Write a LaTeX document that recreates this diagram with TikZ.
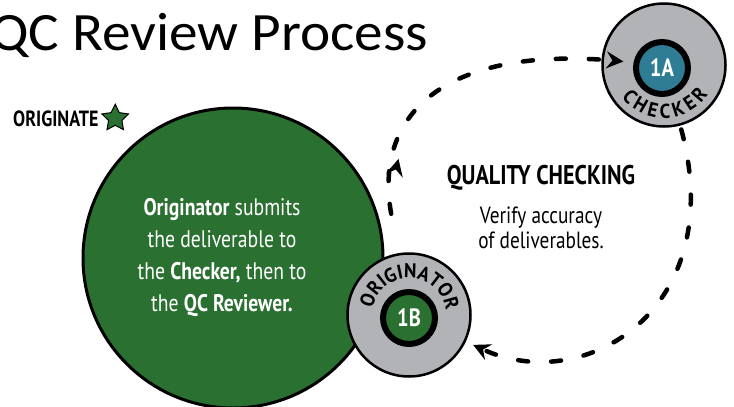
\documentclass[tikz,border=0pt]{standalone}
\usepackage{fontspec}
\setmainfont{PT Sans}
\newfontfamily\titlefont[FakeStretch=1.06]{Carlito}
\newfontfamily\condfont[FakeStretch=0.82]{PT Sans}
\newfontfamily\labelfont[FakeStretch=0.95]{PT Sans}
\newcommand{\ringfont}{\labelfont\bfseries\fontsize{20}{20}\selectfont}
\usepackage{tikz}
\usetikzlibrary{shapes.geometric, arrows.meta, positioning, calc, decorations.text, decorations.markings}
\definecolor{leafgreen}{HTML}{2A7030}
\definecolor{ringgray}{HTML}{B1B3B6}
\definecolor{tealblue}{HTML}{2E7D95}
\tikzset{
  bigstep/.style={
    circle, draw=black, line width=3pt,
    fill=leafgreen, minimum size=300pt, inner sep=0pt,
  },
  role/.style={
    circle, draw=black, line width=2.5pt,
    fill=ringgray, minimum size=123pt, inner sep=0pt,
  },
  badge/.style={
    circle, draw=black, line width=6pt,
    minimum size=52pt, inner sep=0pt, text=white,
    font=\condfont\bfseries\fontsize{25}{25}\selectfont,
  },
  flow/.style={
    line width=4.5pt, line cap=round, dash pattern=on 10pt off 23pt,
    -{Stealth[length=17pt,width=17pt,inset=6pt]},
  },
  heading/.style={font=\condfont\bfseries\fontsize{26}{28}\selectfont, inner sep=0pt},
  bodytext/.style={align=center, text=white, font=\condfont\fontsize{24}{32}\selectfont, inner sep=0pt},
}

\begin{document}
\begin{tikzpicture}[x=1pt,y=1pt]
  \useasboundingbox (0,0) rectangle (734,-407);
  \node[anchor=base east,inner sep=0pt,font=\titlefont\fontsize{54}{54}\selectfont] (title) at (428,-50) {QC Review Process};
  \node[heading,font=\condfont\bfseries\fontsize{22}{22}\selectfont,anchor=base west] (originate) at (13,-126) {ORIGINATE};
  \node[star,star points=5,star point ratio=2,fill=leafgreen,draw=black,line width=1pt,minimum size=28pt,inner sep=0pt,right=7pt of originate] (star) {};
  % originator step
  \node[bigstep] (orig) at (233,-258) {};
  \node[bodytext] (msg) at ([xshift=-11pt]orig.center) {\textbf{Originator} submits\\the deliverable to\\the \textbf{Checker,} then to\\the \textbf{QC Reviewer.}};
  % role badges
  \node[role] (b1) at (409,-315) {};
  \node[badge,fill=leafgreen] (b1in) at ([yshift=-3pt]b1.center) {1B};
  \node[role] (a1) at (664,-65) {};
  \node[badge,fill=tealblue] (a1in) at ([xshift=-2pt,yshift=-3pt]a1.center) {1A};
  \path[decorate,decoration={text along path,text align=fit to path,text={|\ringfont|CHECKER}}]
    ($(a1)+(217:53)$) arc[start angle=217,end angle=326,radius=53];
  \path[decorate,decoration={text along path,text align=fit to path,text={|\ringfont|ORIGINATOR}}]
    ($(b1)+(170:37)$) arc[start angle=170,end angle=9,radius=37];
  % quality checking
  \node[heading,font=\condfont\bfseries\fontsize{27}{27}\selectfont] (qcheck) at (541,-178) {QUALITY CHECKING};
  \node[align=center,inner sep=0pt,font=\condfont\fontsize{23.5}{25}\selectfont,below=16pt of qcheck] (verify) {Verify accuracy\\of deliverables.};
  % loop
  \draw[flow,shorten <=40pt,shorten >=-22pt,postaction={decorate},
    decoration={markings,mark=at position 95pt with {\arrow{Stealth[length=17pt,width=17pt,inset=6pt]}}}]
    (b1) to[out=100,in=175,looseness=1.35] (a1);
  \draw[flow,shorten <=4pt,shorten >=8pt] (a1) to[out=-75,in=-25,out looseness=1.6,in looseness=1.1] (b1);
\end{tikzpicture}
\end{document}
